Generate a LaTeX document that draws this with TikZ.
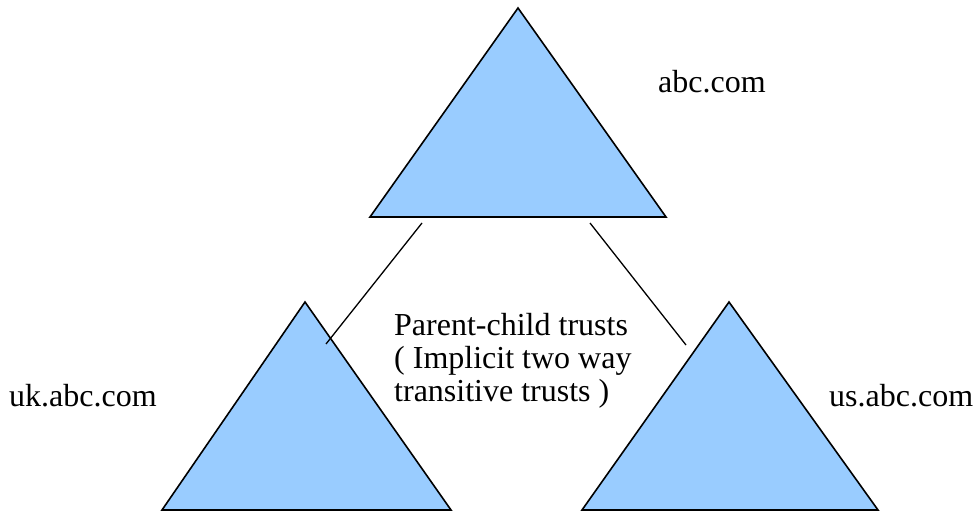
\documentclass[tikz,border=0pt]{standalone}
\usepackage{fontspec}
\setmainfont{Liberation Serif}
\begin{document}
\begin{tikzpicture}[x=1pt,y=-1pt,
  domtri/.style={draw=black,line width=1.6pt,fill=triblue,line join=miter},
  trustlink/.style={draw=black,line width=1.3pt},
  namelbl/.style={font=\fontsize{32}{33}\selectfont,inner sep=0pt,anchor=base west},
  notetext/.style={font=\fontsize{32}{33}\selectfont,inner sep=0pt,anchor=base west,align=left}]
\definecolor{triblue}{RGB}{153,204,255}
\useasboundingbox (0,0) rectangle (974,513);
% domain triangles
\draw[domtri] (518,8) coordinate (rootTop) -- (666,217) coordinate (rootR) -- (370,217) coordinate (rootL) -- cycle;
\draw[domtri] (305,302) coordinate (ukTop) -- (451,510) -- (162,510) -- cycle;
\draw[domtri] (729,302) coordinate (usTop) -- (878,510) -- (582,510) -- cycle;
% trust links
\coordinate (rootLink1) at (422,223);
\coordinate (ukLink) at (326,344);
\coordinate (rootLink2) at (590,223);
\coordinate (usLink) at (686,345);
\draw[trustlink] (rootLink1) -- (ukLink);
\draw[trustlink] (rootLink2) -- (usLink);
% labels
\node[namelbl] (abc) at (658,93) {abc.com};
\node[namelbl] (uk) at (9,406) {uk.abc.com};
\node[namelbl,fill=white,inner sep=1pt] (us) at (828,406) {us.abc.com};
% base anchor of the three-line note sits on its last line
\node[notetext] (trust) at (394,401) {Parent-child trusts\\( Implicit two way\\transitive trusts )};
\end{tikzpicture}
\end{document}
